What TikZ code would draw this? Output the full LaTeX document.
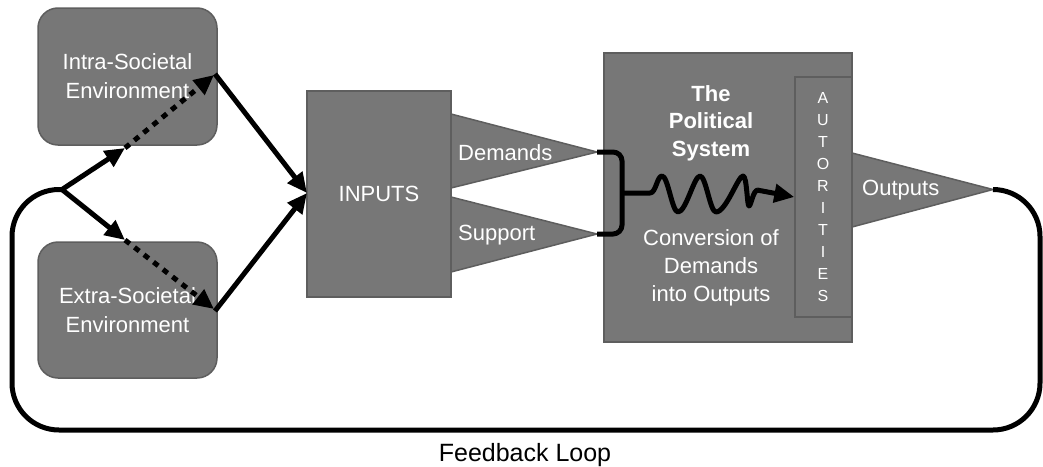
\documentclass[tikz,border=0pt]{standalone}
\usepackage{fontspec}
\setmainfont{Liberation Sans}
\usetikzlibrary{arrows.meta}
\definecolor{boxfill}{HTML}{777777}
\definecolor{boxline}{HTML}{5E5E5E}
\begin{document}
\begin{tikzpicture}[x=1pt,y=-1pt,
  lbl/.style={font=\fontsize{22pt}{29pt}\selectfont, text=white, align=center, inner sep=0pt},
  envbox/.style={draw=boxline, line width=1.5pt, fill=boxfill, rounded corners=20pt,
    minimum width=179pt, minimum height=137pt, lbl},
  sqbox/.style={draw=boxline, line width=1.5pt, fill=boxfill},
  wedge/.style={draw=boxline, line width=1.5pt, fill=boxfill},
  flow/.style={line width=5pt, draw=black},
  arr/.style={flow, -{Triangle[length=20pt,width=18pt]}},
  dotline/.style={arr, dash pattern=on 6pt off 6pt},
  letter/.style={font=\fontsize{16pt}{16pt}\selectfont, text=white, inner sep=0pt}
]
\useasboundingbox (0,0) rectangle (1043,466);

% environment boxes
\node[envbox] (intra) at (127.5,76.5) {Intra-Societal\\Environment};
\node[envbox, minimum height=136pt] (extra) at (127.5,310) {Extra-Societal\\Environment};

% inputs box
\node[sqbox, minimum width=144pt, minimum height=206pt, lbl] (inputs) at (379,194) {INPUTS};

% the political system with the authorities column
\node[sqbox, minimum width=248pt, minimum height=289pt] (polsys) at (728,197.5) {};
\node[sqbox, minimum width=57pt, minimum height=240pt] (auth) at (823.5,197) {};
\foreach \c [count=\i from 0] in {A,U,T,O,R,I,T,I,E,S}
  \node[letter] at (823,98+22*\i) {\c};

\node[lbl, font=\fontsize{22pt}{27.5pt}\selectfont\bfseries] (title) at (711,123) {The\\Political\\System};
\node[lbl, font=\fontsize{22pt}{28pt}\selectfont] (conv) at (711,268) {Conversion of\\Demands\\into Outputs};

% wedges for demands, support and outputs
\coordinate (dtip) at (597,152);
\coordinate (stip) at (597,234);
\coordinate (otip) at (993,189.5);
\path[wedge] (451,114) -- (dtip) -- (451,188) -- cycle;
\path[wedge] (451,197) -- (stip) -- (451,272) -- cycle;
\path[wedge] (852,153) -- (otip) -- (852,227) -- cycle;
\node[lbl, anchor=west] (dem) at (458,153) {Demands};
\node[lbl, anchor=west] (sup) at (458,235) {Support};
\node[lbl, anchor=west] (out) at (862,190) {Outputs};

% environment arrows
\coordinate (fork) at (62,189.5);
\coordinate (intramid) at (125,148);
\coordinate (extramid) at (125,240);
\coordinate (intratip) at (214,75);
\coordinate (extratip) at (214,309);
\coordinate (inin) at (307,193);
\draw[arr] (fork) -- (intramid);
\draw[dotline] (intramid) -- (intratip);
\draw[arr] (fork) -- (extramid);
\draw[dotline] (extramid) -- (extratip);
\draw[arr] (215,74) -- (inin);
\draw[arr] (215,311) -- (inin);

% bracket joining demands and support
\coordinate (brace) at (622,193);
\draw[flow, rounded corners=9pt] (dtip) -- (622,152) -- (622,234) -- (stip);

% conversion squiggle into the authorities
\draw[flow, line join=round] (brace) -- (650,193)
  .. controls (656,193) and (657,176) .. (662,176)
  .. controls (668,176) and (672,212) .. (678,212)
  .. controls (686,212) and (694,176) .. (700,176)
  .. controls (706,176) and (710,212) .. (716,212)
  .. controls (726,212) and (738,176) .. (743,176)
  .. controls (747,176) and (747,206) .. (749,206)
  .. controls (751,206) and (753,190) .. (758,190);
\draw[arr] (757,190) -- (auth.west);

% feedback loop
\draw[flow, rounded corners=47pt] (otip) -- (1040,189.5) -- (1040,430) -- (12,430) -- (12,189.5) -- (fork);
\node[font=\fontsize{25pt}{25pt}\selectfont, inner sep=0pt, anchor=base] (fb) at (525,461) {Feedback Loop};
\end{tikzpicture}
\end{document}
